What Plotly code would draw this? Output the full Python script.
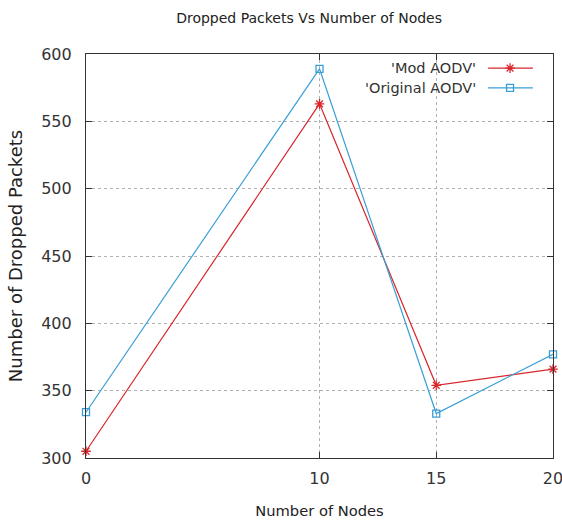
import plotly.graph_objects as go

nodes = [0, 10, 15, 20]
mod_aodv = [305, 563, 354, 366]
orig_aodv = [334, 589, 333, 377]
series_names = ["'Mod AODV'", "'Original AODV'"]
x_ticks = [0, 10, 15, 20]
y_ticks = [300, 350, 400, 450, 500, 550, 600]

RED = "#d8262c"
BLUE = "#3a9fd6"
FONT = "DejaVu Sans"

fig = go.Figure()
fig.add_trace(go.Scatter(x=nodes, y=mod_aodv, mode="lines+markers", cliponaxis=False,
                         line=dict(color=RED, width=1.2),
                         marker=dict(symbol="asterisk-open", size=8, color=RED,
                                     line=dict(color=RED, width=1.3)),
                         showlegend=False))
fig.add_trace(go.Scatter(x=nodes, y=orig_aodv, mode="lines+markers", cliponaxis=False,
                         line=dict(color=BLUE, width=1.2),
                         marker=dict(symbol="square-open", size=7, color=BLUE,
                                     line=dict(color=BLUE, width=1.3)),
                         showlegend=False))

# manual gnuplot-style legend (text right-aligned, sample on the right)
leg_y = [0.965, 0.916]
colors = [RED, BLUE]
symbols = ["asterisk-open", "square-open"]
sizes = [8, 7]
for i in range(2):
    fig.add_trace(go.Scatter(x=[0.861, 0.957], y=[leg_y[i], leg_y[i]], mode="lines",
                             line=dict(color=colors[i], width=1.2),
                             xaxis="x2", yaxis="y2", showlegend=False, hoverinfo="skip"))
    fig.add_trace(go.Scatter(x=[0.908], y=[leg_y[i]], mode="markers",
                             marker=dict(symbol=symbols[i], size=sizes[i], color=colors[i],
                                         line=dict(color=colors[i], width=1.3)),
                             xaxis="x2", yaxis="y2", showlegend=False, hoverinfo="skip"))
    fig.add_annotation(x=0.839, y=leg_y[i], xref="paper", yref="paper",
                       text=series_names[i], showarrow=False, xanchor="right",
                       yanchor="middle", font=dict(family=FONT, size=14.5, color="#333"))

axis_common = dict(showline=True, linecolor="#333", linewidth=1.2, mirror="ticks",
                   ticks="inside", ticklen=6, tickcolor="#333", automargin=False,
                   showgrid=True, gridcolor="#b0b0b0", griddash="dot", gridwidth=1,
                   zeroline=False, ticklabeloverflow="allow",
                   tickfont=dict(family=FONT, size=16, color="#333"))

fig.update_layout(
    width=562, height=524,
    margin=dict(l=86, r=9, t=54, b=66),
    paper_bgcolor="white", plot_bgcolor="white",
    title=dict(text="Dropped Packets Vs Number of Nodes", x=0.55, xanchor="center",
               y=0.965, yanchor="middle", font=dict(family=FONT, size=14, color="#222")),
    xaxis=dict(range=[0, 20], tickvals=x_ticks, ticklabelstandoff=6,
               title=dict(text="Number of Nodes", font=dict(family=FONT, size=14.7, color="#222"),
                          standoff=18),
               **axis_common),
    yaxis=dict(range=[300, 600], tickvals=y_ticks, ticklabelstandoff=10,
               title=dict(text="Number of Dropped Packets",
                          font=dict(family=FONT, size=18, color="#222"), standoff=13),
               **axis_common),
    xaxis2=dict(overlaying="x", range=[0, 1], visible=False, domain=[0, 1]),
    yaxis2=dict(overlaying="y", range=[0, 1], visible=False, domain=[0, 1]),
    showlegend=False,
)

fig.write_html("out.html", config={"displayModeBar": False},
               post_script="document.body.style.margin='0';")
